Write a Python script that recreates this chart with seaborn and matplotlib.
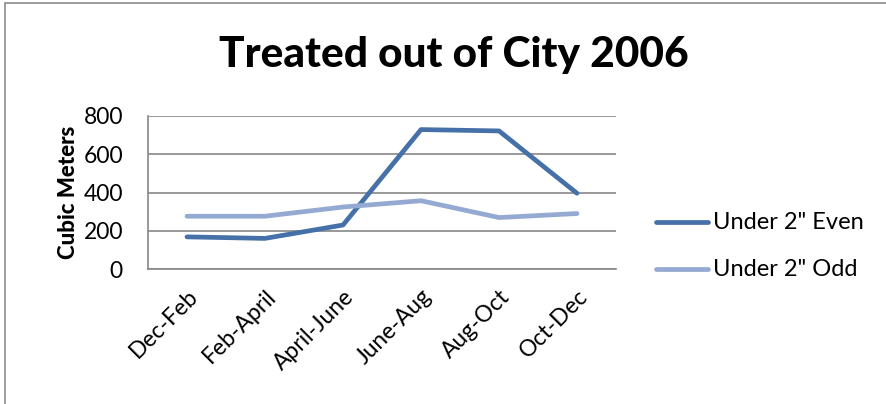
import matplotlib
matplotlib.use("Agg")
import matplotlib.pyplot as plt
import seaborn as sns
import pandas as pd
from matplotlib.patches import Rectangle

periods = ["Dec-Feb", "Feb-April", "April-June", "June-Aug", "Aug-Oct", "Oct-Dec"]
even_values = [168, 160, 230, 729, 722, 396]
odd_values = [276, 276, 324, 357, 269, 290]
series_names = ['Under 2" Even', 'Under 2" Odd']
y_ticks = [0, 200, 400, 600, 800]

df = pd.DataFrame({
    "Period": periods * 2,
    "Cubic Meters": even_values + odd_values,
    "Series": [series_names[0]] * len(periods) + [series_names[1]] * len(periods),
})

sns.set_theme(style="white")
plt.rcParams["font.family"] = ["Lato", "DejaVu Sans"]
plt.rcParams["text.color"] = "black"
plt.rcParams["axes.labelcolor"] = "black"
plt.rcParams["xtick.color"] = "black"
plt.rcParams["ytick.color"] = "black"

fig = plt.figure(figsize=(8.87, 4.04), dpi=100)
fig.patch.set_facecolor("white")
fig.add_artist(Rectangle((5 / 887, -0.1), 1.2, (1 - 3 / 404) + 0.1,
                         transform=fig.transFigure, fill=False,
                         edgecolor="#8c8c8c", linewidth=1.2))

ax = fig.add_axes([148 / 887, 1 - 269 / 404, (616 - 148) / 887, (269 - 116) / 404])
sns.lineplot(data=df, x="Period", y="Cubic Meters", hue="Series",
             palette=["#4570A8", "#94AAD3"], linewidth=3.4,
             solid_capstyle="round", ax=ax, legend=False, sort=False)

ax.set_xlim(-0.5, len(periods) - 0.5)
ax.set_ylim(0, 800)
ax.set_yticks(y_ticks)
ax.set_yticklabels([str(v) for v in y_ticks], fontsize=16.5)
ax.set_xticks(range(len(periods)))
ax.set_xticklabels(periods, rotation=45, ha="right", rotation_mode="anchor", fontsize=16.5)
ax.tick_params(axis="x", length=0, pad=12)
ax.tick_params(axis="y", length=0, pad=18)
ax.set_xlabel("")
ax.set_ylabel("Cubic Meters", fontsize=16, fontweight="black", labelpad=3)
ax.yaxis.grid(True, color="#878787", linewidth=1.2)
ax.set_axisbelow(True)
for side in ["top", "right"]:
    ax.spines[side].set_visible(False)
for side in ["left", "bottom"]:
    ax.spines[side].set_color("#878787")
    ax.spines[side].set_linewidth(1.2)

fig.text(454 / 887, 1 - 55 / 404, "Treated out of City 2006", ha="center", va="center",
         fontsize=30.5, fontweight="black")

# legend drawn as line samples beside the plot area
leg_colors = ["#4570A8", "#94AAD3"]
leg_y = [222, 269]
for name, color, y in zip(series_names, leg_colors, leg_y):
    yf = 1 - y / 404
    fig.add_artist(plt.Line2D([656 / 887, 708 / 887], [yf, yf], transform=fig.transFigure,
                              color=color, linewidth=3.4, solid_capstyle="round"))
    fig.text(713 / 887, yf, name, ha="left", va="center", fontsize=17)

fig.savefig("out.png", dpi=100)
